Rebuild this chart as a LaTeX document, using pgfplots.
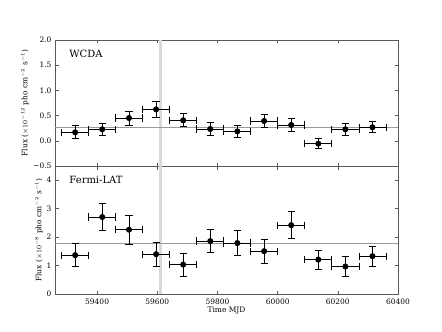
\documentclass[border=0pt]{standalone}
\usepackage{pgfplots}
\pgfplotsset{compat=1.18}
\usepackage{fontspec}
\setmainfont{DejaVu Serif}
\definecolor{axgray}{gray}{0.35}
\definecolor{linegray}{gray}{0.6}
\definecolor{bandgray}{gray}{0.85}
\pgfplotsset{
  panel/.style={
    scale only axis, width=343bp,
    xmin=59260, xmax=60400,
    xtick={59400,59600,59800,60000,60200,60400},
    scaled x ticks=false, scaled y ticks=false,
    tick align=inside, major tick length=3.5bp,
    axis line style={axgray, line width=0.6pt},
    every tick/.style={axgray, line width=0.6pt},
    tick label style={font=\fontsize{7.5}{8}\selectfont},
    xticklabel style={yshift=-1bp},
    label style={font=\fontsize{7.5}{8}\selectfont},
    /pgf/number format/assume math mode=true,
    clip=true,
  },
  pts/.style={black, line width=0.8pt, mark=*, mark size=2.6bp, only marks,
    error bars/.cd, x dir=both, y dir=both, x explicit, y explicit,
    error mark=-,
    error bar style={line width=0.8pt, black},
    error mark options={black, line width=0.8pt, mark size=3.6bp, rotate=90}},
}
\begin{document}
\begin{tikzpicture}[x=1bp,y=1bp]
\path[use as bounding box] (0,0) rectangle (442,331);
\begin{axis}[panel, at={(55bp,165bp)}, anchor=south west, height=126bp,
  ymin=-0.5, ymax=2.0,
  ytick={-0.5,0,0.5,1,1.5,2},
  yticklabels={−0.5,0.0,0.5,1.0,1.5,2.0},
  xticklabels={},
  ylabel={Flux ($\times10^{-12}$ pho cm$^{-2}$ s$^{-1}$)},
  ylabel style={at={(axis description cs:-0.0875,0.5)}, anchor=center},
]
\addplot[fill=bandgray, draw=none] coordinates {(59605,-0.5) (59617,-0.5) (59617,2.0) (59605,2.0)} -- cycle;
\addplot[linegray, line width=1pt] coordinates {(59260,0.26) (60400,0.26)};
\addplot[pts] table[x=x, y=y, x error=ex, y error=ey] {
x y ex ey
59327 0.168 45 0.13
59417 0.228 45 0.125
59506 0.452 45 0.14
59596 0.624 45 0.15
59686 0.406 45 0.13
59776 0.234 45 0.13
59866 0.188 45 0.125
59955 0.393 45 0.13
60045 0.314 45 0.13
60135 -0.057 45 0.10
60225 0.228 45 0.115
60315 0.268 45 0.11
};
\node[anchor=west, font=\fontsize{10}{12}\selectfont] at (axis description cs:0.032,0.889) {WCDA};
\end{axis}
\begin{axis}[panel, at={(55bp,37bp)}, anchor=south west, height=128bp,
  ymin=0, ymax=4.5,
  ytick={0,1,2,3,4},
  xticklabels={59400,59600,59800,60000,60200,60400},
  ylabel={Flux ($\times10^{-8}$ pho cm$^{-2}$ s$^{-1}$)},
  ylabel style={at={(axis description cs:-0.047,0.5)}, anchor=center},
  xlabel={Time MJD},
  xlabel style={at={(axis description cs:0.5,-0.13)}, anchor=center},
]
\addplot[fill=bandgray, draw=none] coordinates {(59605,0) (59617,0) (59617,4.5) (59605,4.5)} -- cycle;
\addplot[linegray, line width=1pt] coordinates {(59260,1.79) (60400,1.79)};
\addplot[pts] table[x=x, y=y, x error=ex, y error=ey] {
x y ex ey
59327 1.365 45 0.40
59417 2.706 45 0.47
59506 2.26 45 0.50
59596 1.40 45 0.43
59686 1.035 45 0.40
59776 1.86 45 0.40
59866 1.79 45 0.45
59955 1.506 45 0.42
60045 2.42 45 0.48
60135 1.21 45 0.33
60225 0.965 45 0.35
60315 1.33 45 0.35
};
\node[anchor=west, font=\fontsize{10}{12}\selectfont] at (axis description cs:0.032,0.89) {Fermi-LAT};
\end{axis}
\end{tikzpicture}
\end{document}
